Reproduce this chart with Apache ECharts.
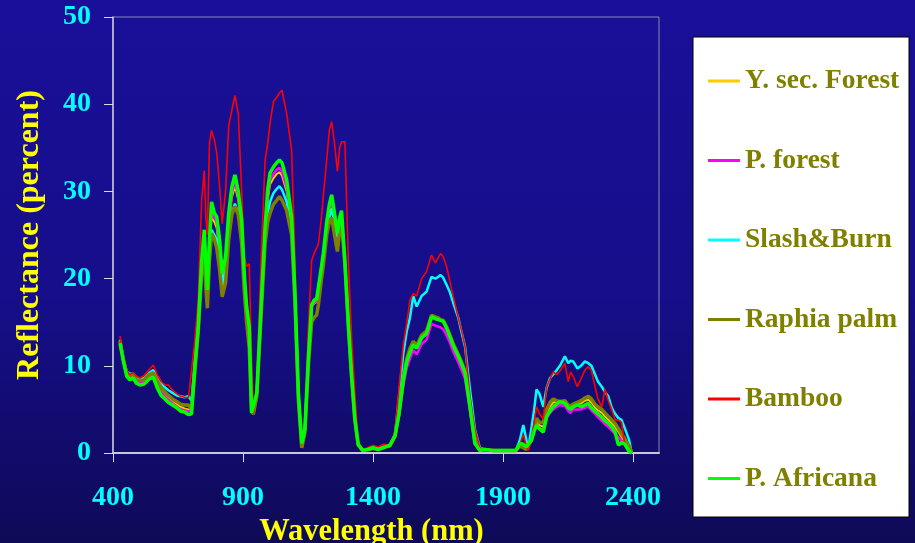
<!DOCTYPE html>
<html>
<head>
<meta charset="utf-8">
<title>Reflectance spectra</title>
<script src="https://cdn.jsdelivr.net/npm/echarts@6/dist/echarts.min.js"></script>
<style>
  html, body { margin: 0; padding: 0; }
  #main { width: 915px; height: 543px; }
</style>
</head>
<body>
<div id="main"></div>
<script>
// wavelength grid (nm)
var wavelength = [
  427, 440, 453, 465, 478, 490, 504, 520, 540, 555, 570, 585, 600, 613, 629, 645, 660, 675, 690,
  702, 715, 728, 741, 751, 757, 763, 771, 779, 790, 799, 810, 820, 833, 845, 857, 869, 882, 895, 905, 914, 924, 933, 940,
  953, 972, 985, 995, 1004, 1017, 1030, 1040, 1050, 1068, 1087, 1100, 1113, 1126,
  1138, 1151, 1164, 1175, 1183, 1190, 1200, 1209, 1222, 1232, 1241, 1252, 1263, 1272, 1279, 1292, 1305, 1318, 1330, 1343,
  1360, 1380, 1400, 1420, 1440, 1465, 1485,
  1500, 1517, 1530, 1542, 1555, 1568, 1587, 1606, 1625, 1640, 1651, 1660, 1670, 1683, 1695, 1709, 1728, 1741, 1754, 1773, 1792, 1811,
  1830, 1860, 1890, 1920, 1950, 1965, 1978, 1990, 1997,
  2010, 2020, 2029, 2040, 2055, 2068, 2081, 2093, 2106, 2119, 2138, 2151, 2160, 2170, 2186, 2200, 2215, 2228, 2240, 2254, 2265, 2280, 2292, 2305, 2318, 2331, 2344, 2356, 2369, 2385, 2395
];

var ySecForest = [
  12.8, 10.6, 9.0, 8.7, 8.8, 8.3, 8.1, 8.2, 8.8, 9.0, 8.0, 7.2, 6.7, 6.3, 5.9, 5.6, 5.3, 5.1, 5.0,
  4.9, 9.8, 14.3, 21.3, 24.2, 20.5, 17.8, 23.0, 27.0, 26.5, 25.8, 23.0, 19.0, 21.0, 26.0, 29.3, 30.6, 29.0, 25.5, 19.5, 16.0, 13.8, 4.6, 4.4,
  6.8, 17.8, 25.0, 29.0, 30.8, 31.5, 32.0, 32.2, 31.8, 30.0, 26.0, 17.8, 6.8, 1.1,
  2.6, 10.5, 16.8, 17.2, 17.3, 18.7, 20.6, 22.4, 25.8, 27.8, 28.5, 26.6, 24.5, 26.2, 27.0, 21.4, 14.7, 8.6, 4.0, 1.0,
  0.3, 0.4, 0.5, 0.5, 0.7, 0.8, 1.9,
  4.5, 8.5, 10.6, 11.7, 12.6, 12.1, 13.3, 13.8, 15.6, 15.4, 15.3, 15.2, 15.1, 14.3, 13.4, 12.3, 11.1, 10.2, 9.2, 5.3, 1.2, 0.3,
  0.4, 0.3, 0.3, 0.3, 0.3, 1.0, 0.9, 0.6, 0.5,
  1.5, 2.8, 3.6, 3.2, 3.0, 4.6, 5.3, 5.8, 5.9, 5.9, 5.8, 5.3, 5.2, 5.4, 5.6, 5.7, 6.0, 6.1, 5.8, 5.2, 4.9, 4.6, 4.2, 3.8, 3.4, 3.0, 2.4, 1.8, 1.3, 0.5, 0
];

var pForest = [
  12.8, 10.6, 9.0, 8.6, 8.7, 8.2, 8.0, 8.1, 8.7, 8.9, 7.9, 7.0, 6.5, 6.1, 5.7, 5.3, 5.0, 4.9, 4.8,
  4.8, 9.8, 14.3, 21.5, 24.5, 21.0, 18.0, 23.5, 27.8, 27.0, 26.5, 23.5, 19.5, 21.5, 26.5, 29.8, 31.1, 29.5, 26.0, 19.8, 16.2, 14.0, 4.6, 4.4,
  6.8, 18.0, 25.5, 29.5, 31.3, 32.0, 32.5, 32.7, 32.3, 30.5, 26.5, 18.0, 6.8, 1.1,
  2.6, 10.5, 16.8, 17.3, 17.4, 18.8, 20.8, 22.6, 26.0, 28.0, 28.8, 26.8, 24.5, 26.3, 27.0, 21.5, 14.8, 8.7, 4.0, 1.0,
  0.3, 0.4, 0.5, 0.5, 0.7, 0.8, 1.8,
  4.2, 7.8, 9.8, 10.8, 11.8, 11.3, 12.5, 13.0, 14.8, 14.6, 14.5, 14.4, 14.2, 13.5, 12.7, 11.6, 10.4, 9.5, 8.5, 4.8, 1.0, 0.3,
  0.4, 0.3, 0.3, 0.3, 0.3, 0.9, 0.8, 0.6, 0.5,
  1.4, 2.6, 3.3, 2.9, 2.6, 4.0, 4.6, 5.0, 5.3, 5.5, 5.4, 4.8, 4.6, 5.0, 5.0, 5.0, 5.2, 5.3, 4.9, 4.5, 4.1, 3.7, 3.3, 3.0, 2.6, 2.2, 1.8, 1.4, 1.0, 0.3, 0
];

var slashBurn = [
  13.0, 10.8, 9.3, 9.1, 9.1, 8.7, 8.5, 8.6, 9.2, 9.5, 8.7, 8.0, 7.5, 7.2, 6.9, 6.6, 6.5, 6.4, 6.5,
  6.0, 10.5, 15.0, 21.5, 24.0, 21.0, 18.0, 23.0, 25.6, 25.0, 24.5, 22.5, 19.5, 21.0, 25.0, 27.5, 28.6, 27.5, 24.5, 19.5, 16.0, 14.0, 5.0, 4.4,
  6.9, 17.5, 24.5, 27.5, 28.8, 29.8, 30.3, 30.6, 30.2, 28.8, 25.5, 17.5, 6.8, 1.3,
  2.7, 10.5, 17.0, 17.5, 17.6, 19.0, 20.8, 22.5, 25.5, 27.0, 28.0, 26.5, 24.8, 26.5, 27.2, 21.8, 14.8, 8.8, 4.0, 1.0,
  0.3, 0.4, 0.5, 0.5, 0.7, 0.8, 2.2,
  6.5, 11.5, 14.0, 15.5, 18.0, 16.8, 18.0, 18.5, 20.2, 20.0, 20.2, 20.4, 20.1, 19.3, 18.5, 17.2, 15.5, 13.8, 12.2, 7.3, 2.7, 0.6,
  0.4, 0.3, 0.3, 0.3, 0.3, 1.5, 3.2, 1.5, 0.5,
  3.0, 5.0, 7.3, 6.8, 5.3, 7.5, 8.6, 9.0, 9.5, 10.0, 11.1, 10.3, 10.6, 10.5, 9.7, 10.0, 10.5, 10.3, 10.0, 9.0, 8.2, 7.6, 7.0, 6.5, 5.2, 4.5, 4.0, 3.8, 2.8, 1.5, 0
];

var raphiaPalm = [
  12.9, 10.7, 9.1, 8.8, 8.9, 8.4, 8.3, 8.4, 9.0, 9.2, 8.3, 7.5, 7.0, 6.6, 6.2, 5.9, 5.6, 5.5, 5.5,
  5.0, 9.5, 14.0, 20.5, 23.0, 19.0, 16.6, 22.0, 25.2, 24.5, 23.5, 21.0, 17.9, 19.5, 24.5, 27.3, 28.3, 27.3, 24.0, 18.5, 15.0, 12.0, 4.8, 4.5,
  6.5, 17.0, 24.0, 26.5, 27.5, 28.5, 29.0, 29.4, 29.0, 27.8, 25.0, 17.0, 6.0, 0.6,
  2.3, 9.8, 15.0, 15.6, 15.8, 17.0, 19.5, 21.5, 25.0, 26.5, 27.0, 25.0, 23.1, 25.5, 26.5, 21.5, 14.5, 8.5, 3.8, 0.9,
  0.3, 0.4, 0.5, 0.5, 0.7, 0.8, 2.0,
  4.6, 8.6, 10.8, 12.0, 12.8, 12.3, 13.5, 14.0, 15.8, 15.6, 15.5, 15.3, 15.2, 14.5, 13.6, 12.5, 11.3, 10.4, 9.4, 5.5, 1.3, 0.3,
  0.4, 0.3, 0.3, 0.3, 0.3, 0.8, 0.6, 0.4, 0.3,
  1.5, 3.0, 4.0, 3.5, 3.5, 5.0, 5.8, 6.2, 6.0, 5.9, 6.0, 5.5, 5.4, 5.6, 5.8, 6.0, 6.3, 6.5, 6.2, 5.6, 5.3, 5.0, 4.6, 4.2, 3.8, 3.4, 2.8, 2.2, 1.6, 0.8, 0
];

var bamboo = [
  13.4, 11.0, 9.4, 9.0, 9.2, 8.8, 8.6, 8.9, 9.6, 10.1, 9.0, 8.2, 7.8, 7.8, 7.2, 6.8, 6.5, 6.4, 6.3,
  9.5, 13.0, 17.6, 29.0, 32.4, 27.0, 25.0, 35.5, 37.0, 35.9, 34.4, 30.5, 26.3, 30.0, 37.5, 39.3, 41.0, 38.9, 29.8, 22.5, 21.4, 21.7, 10.7, 4.4,
  8.0, 24.0, 33.6, 35.5, 37.8, 40.3, 40.8, 41.3, 41.6, 38.9, 34.7, 22.0, 6.5, 2.0,
  2.7, 14.0, 22.1, 23.0, 23.5, 24.0, 26.5, 29.5, 33.6, 37.0, 38.0, 35.5, 32.3, 35.0, 35.7, 35.7, 22.1, 13.0, 7.0, 1.1,
  0.4, 0.6, 0.9, 0.7, 1.0, 0.9, 2.5,
  7.5, 12.5, 14.9, 17.5, 18.3, 18.0, 20.0, 20.8, 22.7, 21.8, 22.4, 22.9, 22.5, 21.4, 19.8, 17.9, 15.5, 14.0, 12.2, 6.5, 2.7, 0.6,
  0.4, 0.4, 0.3, 0.2, 0.3, 1.0, 2.1, 0.8, 0.3,
  1.5, 3.5, 5.3, 4.5, 3.9, 7.6, 8.5, 9.3, 9.0, 9.4, 10.3, 8.2, 9.3, 8.8, 7.6, 8.5, 9.5, 9.9, 9.5, 7.6, 6.2, 5.3, 7.3, 6.0, 5.0, 3.8, 3.8, 3.5, 0.8, 0.2, 0
];

var pAfricana = [
  12.6, 10.5, 8.8, 8.4, 8.6, 8.0, 7.8, 7.9, 8.5, 8.7, 7.5, 6.6, 6.2, 5.8, 5.5, 5.2, 4.8, 4.7, 4.4,
  4.5, 9.9, 14.5, 22.1, 25.6, 22.0, 18.7, 24.5, 28.8, 27.5, 27.1, 24.5, 20.6, 22.5, 27.5, 30.5, 31.9, 30.0, 26.7, 20.5, 16.8, 14.5, 4.6, 4.4,
  6.9, 18.3, 26.0, 30.2, 32.1, 32.8, 33.3, 33.6, 33.3, 31.3, 27.1, 18.3, 6.9, 1.1,
  2.7, 10.7, 17.0, 17.6, 17.6, 19.0, 21.0, 22.9, 26.5, 28.5, 29.6, 27.5, 25.2, 27.0, 27.8, 22.0, 15.0, 8.8, 4.0, 1.0,
  0.3, 0.4, 0.6, 0.4, 0.6, 0.9, 2.0,
  4.5, 8.4, 10.5, 11.5, 12.4, 12.0, 13.2, 13.7, 15.6, 15.4, 15.3, 15.2, 15.1, 14.3, 13.4, 12.3, 11.1, 10.2, 9.2, 5.3, 1.1, 0.3,
  0.4, 0.3, 0.3, 0.3, 0.3, 1.1, 1.0, 0.7, 0.6,
  1.5, 2.5, 3.2, 2.8, 2.4, 4.2, 4.8, 5.3, 5.6, 5.9, 5.7, 5.2, 5.0, 5.3, 5.5, 5.3, 5.5, 5.7, 5.2, 4.8, 4.5, 4.1, 3.7, 3.4, 3.0, 2.4, 0.9, 1.2, 1.0, 0.2, 0
];

var seriesNames = ['Y. sec. Forest', 'P. forest', 'Slash&Burn', 'Raphia palm', 'Bamboo', 'P. Africana'];
var xTicks = [400, 900, 1400, 1900, 2400];

var font = '"Liberation Serif", "Times New Roman", serif';

function pairs(vals) {
  return wavelength.map(function (w, i) { return [w, vals[i]]; });
}

function lineSeries(name, vals, color, width) {
  return {
    name: name,
    type: 'line',
    symbol: 'none',
    smooth: false,
    color: color,
    lineStyle: { color: color, width: width },
    data: pairs(vals)
  };
}

var chart = echarts.init(document.getElementById('main'));

var option = {
  animation: false,
  backgroundColor: new echarts.graphic.LinearGradient(0, 0, 0, 1, [
    { offset: 0, color: '#1a0f99' },
    { offset: 0.55, color: '#160e8a' },
    { offset: 1, color: '#0e0a57' }
  ]),
  graphic: [{
    type: 'rect',
    shape: { x: 693, y: 37, width: 216, height: 480 },
    style: { fill: '#ffffff', stroke: '#000000', lineWidth: 1 },
    z: 0
  }],
  grid: {
    left: 113,
    right: 256,
    top: 17,
    bottom: 90,
    outerBoundsMode: 'none',
    show: true,
    borderColor: '#8a8aa8',
    borderWidth: 1
  },
  legend: {
    orient: 'vertical',
    left: 708,
    top: 66,
    padding: 0,
    icon: 'rect',
    itemWidth: 32,
    itemHeight: 3,
    itemGap: 49.5,
    data: seriesNames,
    textStyle: {
      color: '#808000',
      fontFamily: font,
      fontWeight: 'bold',
      fontSize: 27.5,
      lineHeight: 30
    }
  },
  xAxis: {
    type: 'value',
    min: 400,
    max: 2500,
    interval: 500,
    name: 'Wavelength (nm)',
    nameLocation: 'middle',
    nameGap: 58,
    nameTextStyle: {
      color: '#ffff00',
      fontFamily: font,
      fontWeight: 'bold',
      fontSize: 30.5,
      padding: [0, 29, 0, 0]
    },
    axisLine: { show: true, lineStyle: { color: '#c8c8d8', width: 2 } },
    axisTick: { show: true, length: 9, customValues: xTicks, lineStyle: { color: '#d8d8e8', width: 1 } },
    axisLabel: {
      customValues: xTicks,
      formatter: function (v) { return String(v); },
      margin: 31,
      color: '#00ffff',
      fontFamily: font,
      fontWeight: 'bold',
      fontSize: 28
    },
    splitLine: { show: false }
  },
  yAxis: {
    type: 'value',
    min: 0,
    max: 50,
    interval: 10,
    name: 'Reflectance (percent)',
    nameLocation: 'middle',
    nameGap: 67,
    nameTextStyle: {
      color: '#ffff00',
      fontFamily: font,
      fontWeight: 'bold',
      fontSize: 32
    },
    axisLine: { show: true, lineStyle: { color: '#c8c8d8', width: 1.5 } },
    axisTick: { show: true, inside: false, length: 9, lineStyle: { color: '#d8d8e8', width: 1 } },
    axisLabel: {
      margin: 22,
      color: '#00ffff',
      fontFamily: font,
      fontWeight: 'bold',
      fontSize: 28
    },
    splitLine: { show: false }
  },
  series: [
    lineSeries(seriesNames[0], ySecForest, '#ffcc00', 2),
    lineSeries(seriesNames[1], pForest, '#ff00ff', 2.5),
    lineSeries(seriesNames[2], slashBurn, '#00ffff', 2.5),
    lineSeries(seriesNames[3], raphiaPalm, '#808000', 3.5),
    lineSeries(seriesNames[4], bamboo, '#ff0000', 1.6),
    lineSeries(seriesNames[5], pAfricana, '#00ff00', 3.5)
  ]
};

chart.setOption(option);
</script>
</body>
</html>
